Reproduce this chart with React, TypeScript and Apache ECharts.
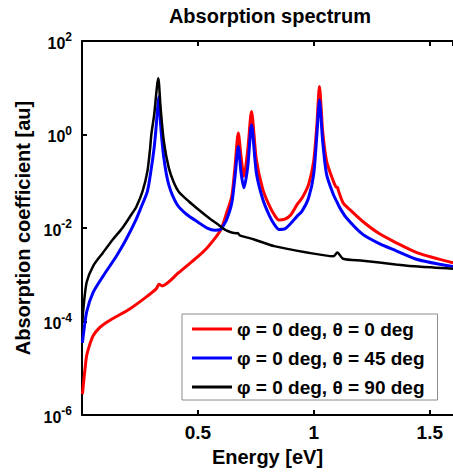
import React, { useEffect, useRef } from 'react';
import * as echarts from 'echarts';

// Energy [eV] / absorption coefficient [au]
const redX = [0.002, 0.0055, 0.013, 0.02, 0.034, 0.048, 0.077, 0.105, 0.148, 0.204, 0.275, 0.32, 0.332, 0.346, 0.417, 0.46, 0.502, 0.54, 0.573, 0.6, 0.624, 0.646, 0.66, 0.674, 0.686, 0.698, 0.715, 0.731, 0.752, 0.78, 0.809, 0.83, 0.85, 0.875, 0.9, 0.928, 0.949, 0.977, 0.999, 1.013, 1.024, 1.038, 1.055, 1.084, 1.096, 1.102, 1.106, 1.126, 1.162, 1.211, 1.28, 1.353, 1.45, 1.6];
const redY = [2.8e-6, 4.3e-6, 9.7e-6, 1.86e-5, 3.3e-5, 5.0e-5, 7.5e-5, 9.6e-5, 1.28e-4, 1.84e-4, 3.3e-4, 5.0e-4, 6.3e-4, 5.8e-4, 1.11e-3, 1.67e-3, 2.5e-3, 3.8e-3, 6.0e-3, 9.5e-3, 0.0212, 0.048, 0.209, 1.08, 0.341, 0.128, 0.474, 3.1, 0.29, 0.0665, 0.0293, 0.019, 0.0148, 0.0155, 0.019, 0.032, 0.044, 0.085, 0.267, 1.62, 10.6, 1.16, 0.267, 0.1, 0.075, 0.074, 0.063, 0.0346, 0.023, 0.0138, 0.0077, 0.0049, 0.0029, 0.0018];

const blueX = [0.002, 0.0055, 0.02, 0.048, 0.091, 0.148, 0.19, 0.233, 0.254, 0.282, 0.297, 0.311, 0.318, 0.332, 0.339, 0.353, 0.374, 0.41, 0.452, 0.502, 0.54, 0.573, 0.6, 0.61, 0.624, 0.646, 0.66, 0.674, 0.686, 0.698, 0.715, 0.731, 0.752, 0.78, 0.809, 0.83, 0.85, 0.875, 0.9, 0.928, 0.949, 0.977, 0.999, 1.013, 1.024, 1.038, 1.055, 1.084, 1.098, 1.112, 1.14, 1.211, 1.28, 1.353, 1.45, 1.6];
const blueY = [3.5e-5, 5.0e-5, 1.6e-4, 4.2e-4, 9.4e-4, 2.5e-3, 5.7e-3, 0.0152, 0.0271, 0.061, 0.163, 0.515, 1.16, 6.5, 1.62, 0.315, 0.085, 0.032, 0.0195, 0.0132, 0.01, 0.009, 0.0095, 0.0114, 0.0152, 0.0346, 0.128, 0.557, 0.151, 0.0723, 0.209, 1.62, 0.151, 0.0407, 0.018, 0.0118, 0.0093, 0.0096, 0.0125, 0.018, 0.023, 0.044, 0.139, 1.0, 5.5, 0.71, 0.139, 0.052, 0.0375, 0.027, 0.0166, 0.0073, 0.0047, 0.0033, 0.0021, 0.0015];

const blackX = [0.002, 0.0055, 0.02, 0.048, 0.091, 0.133, 0.176, 0.218, 0.233, 0.261, 0.282, 0.294, 0.299, 0.311, 0.329, 0.339, 0.353, 0.374, 0.396, 0.417, 0.46, 0.502, 0.545, 0.587, 0.62, 0.665, 0.672, 0.68, 0.743, 0.829, 0.97, 1.084, 1.101, 1.126, 1.211, 1.353, 1.45, 1.6];
const blackY = [1.0e-4, 1.8e-4, 6.9e-4, 1.54e-3, 3.0e-3, 5.7e-3, 0.0103, 0.0212, 0.0275, 0.061, 0.163, 0.52, 1.0, 2.6, 16, 3.7, 0.71, 0.196, 0.094, 0.06, 0.0375, 0.0249, 0.0168, 0.0119, 0.009, 0.0077, 0.0078, 0.007, 0.0057, 0.0041, 0.003, 0.0025, 0.003, 0.0022, 0.002, 0.00167, 0.0015, 0.00135];

const seriesNames = ['φ = 0 deg, θ = 0 deg', 'φ = 0 deg, θ = 45 deg', 'φ = 0 deg, θ = 90 deg'];
const seriesColors = ['#ff0000', '#0000ff', '#000000'];

const titleText = 'Absorption spectrum';
const xName = 'Energy [eV]';
const yName = 'Absorption coefficient [au]';

const FONT = '"Liberation Sans", Arial, sans-serif';

export default function App() {
  const ref = useRef<HTMLDivElement>(null);
  useEffect(() => {
    const chart = echarts.init(ref.current!, null, { renderer: 'svg' });
    const zip = (xs: number[], ys: number[]) => xs.map((x, i) => [x, ys[i]]);
    const datasets = [zip(redX, redY), zip(blueX, blueY), zip(blackX, blackY)];
    const widths = [3, 3, 2.5];
    const axisLineStyle = { color: '#000', width: 2 };
    chart.setOption({
      animation: false,
      backgroundColor: '#fff',
      title: {
        text: titleText,
        left: 270,
        top: 6,
        textAlign: 'center',
        padding: 0,
        textStyle: { fontFamily: FONT, fontSize: 20, fontWeight: 'bold', color: '#000' },
      },
      grid: { left: 82, top: 41, right: -5, bottom: 56, containLabel: false },
      legend: {
        orient: 'vertical',
        left: 182,
        top: 314,
        padding: [5, 13, 3, 10],
        itemGap: 9,
        itemWidth: 40,
        itemHeight: 3,
        icon: 'rect',
        borderColor: '#8c8c8c',
        borderWidth: 1,
        borderRadius: 0,
        backgroundColor: '#fff',
        textStyle: { fontFamily: FONT, fontSize: 19, fontWeight: 'bold', color: '#000', lineHeight: 20 },
        data: seriesNames,
      },
      xAxis: [
        {
          type: 'value',
          min: 0,
          max: 1.6,
          interval: 0.5,
          name: xName,
          nameLocation: 'middle',
          nameGap: 30,
          nameTextStyle: { fontFamily: FONT, fontSize: 20, fontWeight: 'bold', color: '#000' },
          axisLine: { show: true, lineStyle: axisLineStyle },
          axisTick: { show: true, inside: true, length: 5, lineStyle: axisLineStyle },
          axisLabel: {
            margin: 8,
            fontFamily: FONT,
            fontSize: 19,
            fontWeight: 'bold',
            color: '#000',
            formatter: (v: number) => (v === 0 ? '' : String(v)),
          },
          splitLine: { show: false },
        },
        {
          type: 'value',
          position: 'top',
          min: 0,
          max: 1.6,
          interval: 0.5,
          axisLine: { show: true, lineStyle: axisLineStyle },
          axisTick: { show: true, inside: true, length: 5, lineStyle: axisLineStyle },
          axisLabel: { show: false },
          splitLine: { show: false },
        },
      ],
      yAxis: {
        type: 'log',
        logBase: 10,
        min: 1e-6,
        max: 1e2,
        interval: 2,
        name: yName,
        nameLocation: 'middle',
        nameGap: 46,
        nameTextStyle: { fontFamily: FONT, fontSize: 20, fontWeight: 'bold', color: '#000' },
        axisLine: { show: true, lineStyle: axisLineStyle },
        axisTick: { show: true, inside: true, length: 5, lineStyle: axisLineStyle },
        axisLabel: {
          margin: 10,
          color: '#000',
          formatter: (v: number) => `{b|10}{s|${Math.round(Math.log10(v))}}`,
          rich: {
            b: { fontFamily: FONT, fontSize: 16, fontWeight: 'bold', color: '#000', lineHeight: 20, verticalAlign: 'bottom' },
            s: { fontFamily: FONT, fontSize: 12, fontWeight: 'bold', color: '#000', lineHeight: 12, verticalAlign: 'top' },
          },
        },
        splitLine: { show: false },
      },
      series: datasets.map((d, i) => ({
        name: seriesNames[i],
        type: 'line',
        xAxisIndex: 0,
        data: d,
        showSymbol: false,
        symbol: 'none',
        smooth: 0.25,
        color: seriesColors[i],
        itemStyle: { color: seriesColors[i] },
        lineStyle: { color: seriesColors[i], width: widths[i] },
      })),
    });
    return () => chart.dispose();
  }, []);
  return <div ref={ref} style={{ position: 'fixed', left: 0, top: 0, width: 453, height: 472 }} />;
}
